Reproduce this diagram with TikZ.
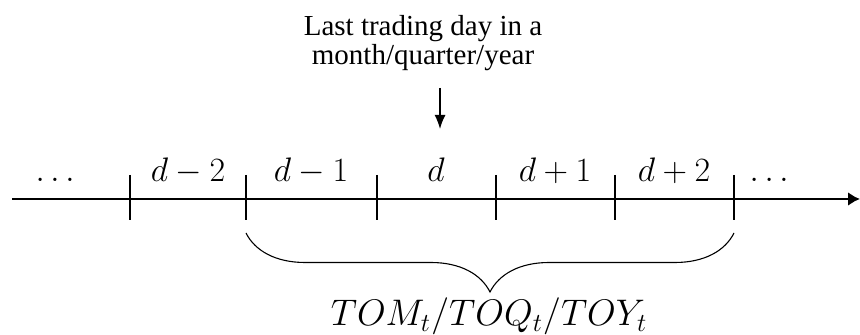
\RequirePackage{fix-cm}
\documentclass[tikz,border=0pt]{standalone}
\usepackage[no-math]{fontspec}
\setmainfont{Liberation Serif}
\usepackage{amsmath}
\usepackage{tikz}
\usetikzlibrary{arrows.meta, positioning, calc, decorations.pathreplacing}

\begin{document}
\begin{tikzpicture}[
        x=0.5pt, y=-0.5pt,
        axis/.style={line width=1.4pt, -{Latex[length=6pt, width=7pt]}},
        tick/.style={line width=0.8pt},
        daylabel/.style={anchor=base, inner sep=0pt, font=\fontsize{17}{19}\selectfont},
        note/.style={align=center, inner sep=0pt, font=\fontsize{14.5}{14.5}\selectfont},
        pointer/.style={line width=0.7pt, -{Latex[length=7pt, width=5.5pt]}},
        brace/.style={decorate, decoration={brace, mirror, amplitude=29.5pt}, line width=0.55pt}
    ]
        \useasboundingbox (0,0) rectangle (860,335);

        % axis and ticks
        \coordinate (start) at (12,199);
        \coordinate (end) at (860,199);
        \draw[axis] (start) -- (end);
        \foreach \name/\x in {t0/130, t1/246, t2/377, t3/496, t4/615, t5/734} {
            \coordinate (\name top) at (\x,175);
            \coordinate (\name bot) at (\x,220);
            \draw[tick] (\name top) -- (\name bot);
        }

        % day labels
        \node[daylabel] (dotsleft) at (58,182) {$\dots$};
        \node[daylabel] (dm2) at (188,182) {$d-2$};
        \node[daylabel] (dm1) at (311,182) {$d-1$};
        \node[daylabel] (d) at (436,182) {$d$};
        \node[daylabel] (dp1) at (555,182) {$d+1$};
        \node[daylabel] (dp2) at (674,182) {$d+2$};
        \node[daylabel] (dotsright) at (772,182) {$\dots$};

        % last trading day
        \node[note] (last) at (423,43) {Last trading day in a\\month/quarter/year};
        \coordinate (ptop) at (440,88);
        \coordinate (pbot) at (440,129);
        \draw[pointer] (ptop) -- (pbot);

        % turn of the period
        \coordinate (bl) at (246,233);
        \coordinate (br) at (734,233);
        \draw[brace] (bl) -- (br);
        \node[daylabel, font=\fontsize{18.5}{20}\selectfont] (tom) at (489,326) {$TOM_t/TOQ_t/TOY_t$};
    \end{tikzpicture}
\end{document}
